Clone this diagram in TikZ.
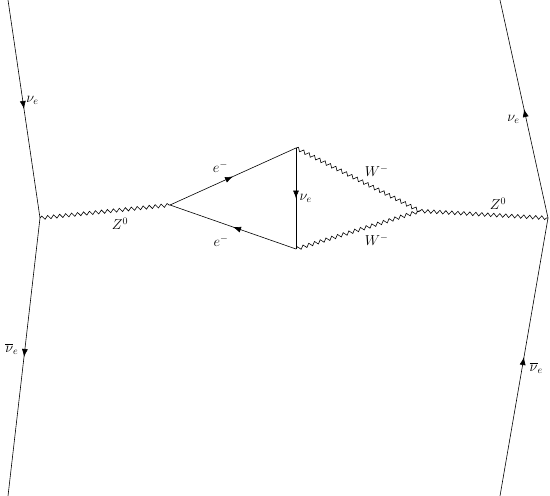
\documentclass[tikz,border=0pt]{standalone}
\usepackage{amsmath}
\usetikzlibrary{arrows.meta,decorations.markings,decorations.pathmorphing,positioning}

\begin{document}
\begin{tikzpicture}[x=1pt,y=-1pt,line width=0.6pt,font=\Large,
    fermion/.style={postaction={decorate},decoration={markings,
      mark=at position 0.5 with {\arrow{Latex[length=8pt,width=6pt]}}}},
    boson/.style={decorate,decoration={snake,amplitude=1.8pt,segment length=6pt}}]

  \useasboundingbox (0,0) rectangle (550,496);

  % vertices and free ends
  \coordinate (a1) at (8,0);
  \coordinate (a2) at (8,496);
  \coordinate (v1) at (40,218);
  \coordinate (v2) at (170,205);
  \coordinate (v3) at (296,148);
  \coordinate (v4) at (296,249);
  \coordinate (v5) at (420,211);
  \coordinate (v6) at (548,218);
  \coordinate (b1) at (500,0);
  \coordinate (b2) at (500,496);

  % external neutrinos
  \draw[fermion] (a1) -- node[pos=0.46,right] (l1) {$\nu_e$} (v1);
  \draw[fermion] (v1) -- node[pos=0.47,left,xshift=-3pt] (l2) {$\overline{\nu}_e$} (a2);
  \draw[fermion] (v6) -- node[pos=0.454,left,xshift=-3pt] (l3) {$\nu_e$} (b1);
  \draw[fermion] (b2) -- node[pos=0.46,right,xshift=4pt] (l4) {$\overline{\nu}_e$} (v6);

  % Z bosons
  \draw[boson] (v1) -- node[pos=0.615,below=4pt] (l5) {$Z^0$} (v2);
  \draw[boson] (v5) -- node[pos=0.61,above=2pt] (l6) {$Z^0$} (v6);

  % loop
  \draw[fermion] (v2) -- node[pos=0.4,above=6pt] (l7) {$e^-$} (v3);
  \draw[fermion] (v4) -- node[pos=0.595,below=9pt] (l8) {$e^-$} (v2);
  \draw[fermion] (v3) -- node[right] (l9) {$\nu_e$} (v4);
  \draw[boson] (v3) -- node[pos=0.65,above=9pt] (l10) {$W^-$} (v5);
  \draw[boson] (v4) -- node[pos=0.65,below=7pt] (l11) {$W^-$} (v5);
\end{tikzpicture}
\end{document}
